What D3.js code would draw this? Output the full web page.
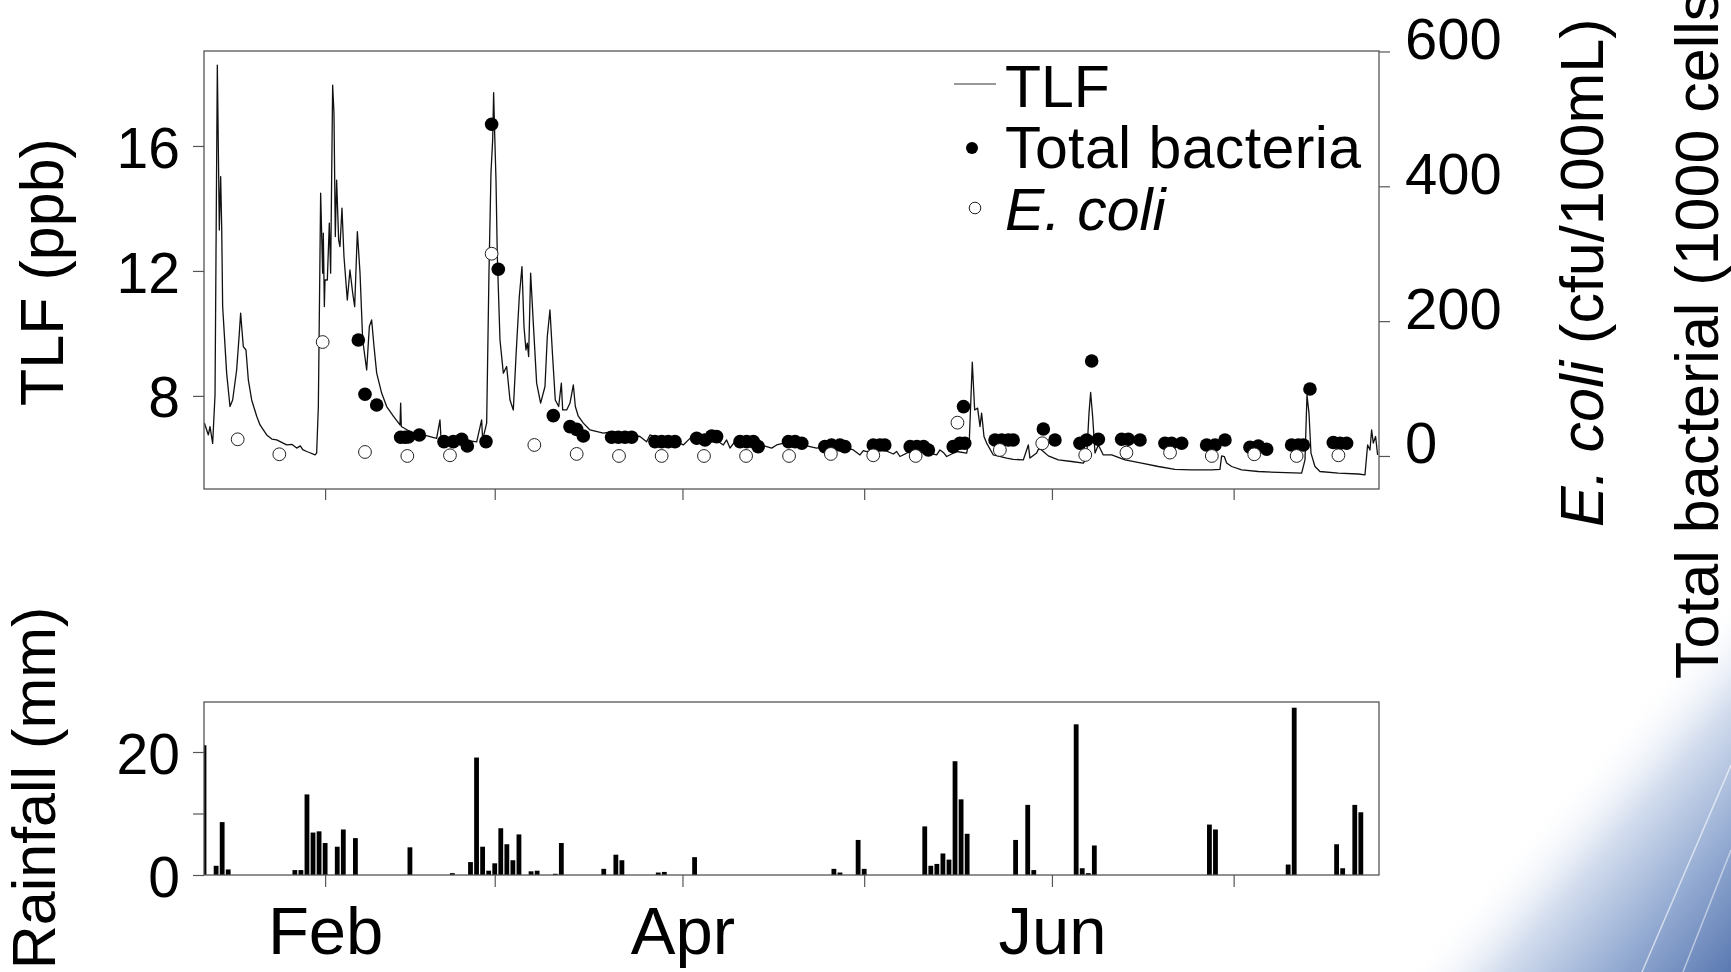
<!DOCTYPE html>
<html>
<head>
<meta charset="utf-8">
<script src="https://cdn.jsdelivr.net/npm/d3@7"></script>
<style>
  body { margin: 0; background: #fff; }
  svg { display: block; font-family: "Liberation Sans", Arial, sans-serif; }
</style>
</head>
<body>
<script>
// all days are counted from 1 January (day 0)

// TLF (ppb), [day, value]
const tlf = [
  [11.06,7.13],[11.72,6.75],[11.99,7.02],[12.43,6.48],[12.82,8.03],[13.2,18.59],[13.53,13.31],[13.75,15.02],
  [13.92,13.42],[14.08,10.86],[14.74,8.73],[15.29,7.66],[15.73,7.87],[16.39,8.83],[16.83,10.0],[17.05,10.65],
  [17.22,10.22],[17.49,9.58],[17.93,9.47],[18.32,8.51],[18.87,7.87],[19.7,7.35],[20.25,7.07],[21.35,6.75],
  [22.2,6.62],[23.0,6.59],[24.65,6.43],[25.5,6.45],[26.3,6.33],[26.9,6.4],[27.3,6.28],[27.95,6.22],[28.5,6.18],
  [29.33,6.11],[29.6,6.17],[29.88,7.66],[30.26,14.49],[30.59,11.93],[30.7,13.21],[30.87,10.86],[30.98,11.71],
  [31.36,11.71],[31.69,13.53],[31.91,11.93],[32.24,17.95],[32.46,17.05],[32.68,13.1],[32.9,14.91],[33.23,12.99],
  [33.45,12.78],[33.78,14.01],[34.11,12.46],[34.66,11.07],[35.1,12.03],[35.55,11.29],[35.88,10.86],[36.32,13.26],
  [36.76,11.93],[37.2,9.79],[37.86,8.83],[38.3,10.22],[38.68,10.43],[39.07,9.58],[39.51,8.73],[40.33,8.09],
  [41.16,7.66],[42.26,7.35],[43.36,7.07],[43.47,7.77],[43.58,7.02],[45.01,6.86],[47.21,6.75],[49.41,6.64],
  [49.96,7.23],[50.13,6.64],[51.61,6.59],[53.82,6.59],[56.02,6.53],[56.84,7.23],[57.01,6.59],[57.67,7.13],
  [58.05,11.93],[58.38,15.13],[58.66,16.19],[58.82,17.71],[58.99,16.41],[59.21,14.91],[59.43,12.46],[59.87,9.79],
  [60.42,8.73],[60.97,8.94],[61.52,7.87],[62.07,7.55],[62.51,9.26],[63.06,11.18],[63.5,12.14],[63.83,10.22],
  [64.16,9.47],[64.38,9.69],[64.6,9.26],[64.93,11.93],[65.37,10.33],[65.92,8.41],[66.58,7.77],[67.3,8.3],
  [67.68,9.9],[68.12,10.75],[68.56,9.26],[69.0,7.87],[69.56,7.66],[70.0,8.41],[70.22,7.55],[70.88,7.55],
  [71.43,7.77],[71.98,8.35],[72.31,7.66],[72.8,7.35],[73.63,7.13],[74.73,6.91],[76.93,6.81],[78.58,6.86],
  [81.33,6.75],[82.98,6.7],[84.08,6.53],[84.63,6.75],[86.83,6.59],[89.04,6.53],[90.14,6.43],[91.24,6.64],
  [92.89,6.54],[95.09,6.65],[96.74,6.43],[97.29,6.59],[97.84,6.33],[98.67,6.54],[101.15,6.54],[103.9,6.38],
  [104.72,6.33],[105.55,6.43],[107.75,6.54],[111.05,6.38],[112.15,6.33],[115.45,6.43],[118.21,6.27],[118.76,6.19],
  [119.31,6.11],[119.86,6.25],[120.41,6.22],[122.61,6.33],[124.81,6.14],[125.36,6.22],[125.91,6.06],[128.11,6.27],
  [131.97,6.11],[132.51,6.27],[133.07,6.19],[133.62,6.06],[135.27,6.22],[136.92,6.17],[137.36,6.59],[137.85,9.08],
  [138.24,7.55],[138.73,7.61],[139.12,7.02],[139.39,7.45],[139.78,6.7],[140.22,6.49],[141.32,6.11],[143.52,6.01],
  [144.62,5.97],[146.27,5.95],[147.1,6.43],[147.37,6.01],[148.48,6.17],[148.86,6.33],[149.58,6.22],[150.4,6.08],
  [152.05,5.95],[154.25,5.9],[156.18,5.85],[156.73,6.01],[157.12,7.45],[157.39,8.11],[157.72,7.34],[158.11,6.17],
  [158.66,6.43],[159.48,6.11],[160.86,6.11],[163.06,5.95],[165.81,5.85],[168.56,5.74],[171.31,5.65],[174.07,5.63],
  [177.37,5.63],[178.74,5.65],[179.02,6.08],[179.46,6.06],[179.84,5.85],[180.67,5.74],[182.32,5.63],[185.07,5.58],
  [188.37,5.55],[192.23,5.53],[192.78,5.95],[193.11,8.03],[193.44,7.45],[193.77,6.17],[194.43,5.74],[195.25,5.58],
  [198.28,5.53],[201.58,5.5],[202.68,5.47],[203.12,6.43],[203.51,6.27],[203.78,6.91],[204.06,6.49],[204.44,6.7],
  [204.77,6.11]
];

// total bacteria (1000 cells), [day, value]
const totalBacteria = [
  [36.48,172],[37.58,91.5],[39.51,75.6],[43.47,27.7],[44.2,27.7],[44.74,28.2],[46.55,31.1],[50.62,21.3],
  [52.17,21.3],[53.54,24.7],[54.48,14.8],[57.56,21.3],[58.49,492],[59.59,277],[68.67,59.8],[71.43,43.5],
  [72.53,39.5],[73.63,29.7],[78.3,27.7],[79.41,27.7],[80.51,27.7],[81.61,27.7],[85.46,21.3],[86.56,21.3],
  [87.66,21.3],[88.76,21.3],[92.34,26.2],[93.72,23.7],[94.82,29.7],[95.64,28.7],[99.5,21.3],[100.6,21.3],
  [101.7,21.3],[102.5,13.8],[107.5,21.3],[108.6,21.3],[109.7,18.8],[113.5,13.8],[114.6,16.3],[116.0,16.3],
  [116.8,13.8],[121.5,16.3],[122.6,16.3],[123.4,16.3],[127.6,13.8],[128.7,13.8],[129.8,13.8],[130.6,8.9],
  [134.7,13.8],[135.8,18.8],[136.4,73.2],[136.6,18.8],[141.6,23.7],[142.7,23.7],[143.8,23.7],[144.6,23.7],
  [149.58,40.0],[151.5,23.7],[155.63,18.8],[156.73,23.7],[157.56,140.9],[158.66,24.7],[162.51,24.7],[163.61,24.7],
  [165.54,23.7],[169.66,18.8],[170.76,18.8],[172.42,18.8],[176.54,16.3],[177.92,16.3],[179.57,23.7],[183.7,12.9],
  [185.07,14.8],[186.45,9.9],[190.57,16.3],[191.68,16.3],[192.5,16.3],[193.6,99.4],[197.45,20.0],[198.56,18.8],
  [199.65,18.8]
];

// E. coli (cfu/100mL), [day, value]
const eColi = [
  [16.56,24.7],[23.44,2.5],[30.59,169],[37.58,5.9],[44.57,0],[51.61,1],[58.49,300],[65.54,16.3],[72.53,3],
  [79.52,0],[86.56,0],[93.55,0],[100.5,0],[107.6,0],[114.5,3],[121.5,1],[128.5,0],[135.4,49.4],[142.4,8.9],
  [149.4,18.8],[156.5,1.5],[163.3,5],[170.5,5],[177.4,0],[184.4,2.5],[191.4,0],[198.3,1]
];

// daily rainfall (mm)
const rainDays = [11,13,14,15,26,27,28,29,30,31,33,34,36,45,52,55,56,57,58,59,60,61,62,63,65,66,69,70,77,79,80,
  86,87,92,115,116,119,120,130,131,132,133,134,135,136,137,145,147,148,155,156,157,158,177,178,190,191,198,199,201,202];
const rainMm = [21.1,1.5,8.6,0.9,0.8,0.8,13.1,6.9,7.1,5.2,4.6,7.4,6.0,4.5,0.3,2.1,19.1,4.6,0.7,1.9,7.6,5.0,2.4,6.6,0.6,0.7,
  0.2,5.2,1.0,3.3,2.4,0.4,0.5,2.9,1.0,0.4,5.7,1.0,7.9,1.5,1.8,3.5,2.5,18.5,12.3,6.7,5.7,11.4,0.8,24.5,1.1,0.3,4.8,8.2,7.4,
  1.7,27.2,5.0,1.1,11.4,10.2];

const tlfTicks = [8, 12, 16];
const countTicks = [0, 200, 400, 600];
const rainTicks = [0, 10, 20];
const rainTickLabels = ['0', '', '20'];
const monthLabels = {1: 'Feb', 3: 'Apr', 5: 'Jun'};

const W = 1731, H = 972;
const t0 = Date.UTC(2011, 0, 1);
const toDate = d => new Date(t0 + d * 864e5);

const svg = d3.select('body').append('svg')
  .attr('width', W)
  .attr('height', H);

// slide background corner
const defs = svg.append('defs');
const grad = defs.append('linearGradient')
  .attr('id', 'swoosh')
  .attr('gradientUnits', 'userSpaceOnUse')
  .attr('x1', 1560).attr('y1', 790)
  .attr('x2', 1745).attr('y2', 950);
grad.append('stop').attr('offset', 0).attr('stop-color', '#ffffff').attr('stop-opacity', 0);
grad.append('stop').attr('offset', 0.3).attr('stop-color', '#d3ddee');
grad.append('stop').attr('offset', 0.65).attr('stop-color', '#94abd2');
grad.append('stop').attr('offset', 1).attr('stop-color', '#5d7bb3');

svg.append('path')
  .attr('d', 'M1405,972 Q1560,810 1731,600 L1731,972 Z')
  .attr('fill', 'url(#swoosh)');
svg.append('path')
  .attr('d', 'M1731,765 L1642,972')
  .attr('stroke', '#fff').attr('stroke-opacity', 0.6).attr('stroke-width', 1.5);
svg.append('path')
  .attr('d', 'M1731,850 L1683,972')
  .attr('stroke', '#fff').attr('stroke-opacity', 0.5).attr('stroke-width', 1.5);

// scales
const x = d3.scaleUtc().domain([toDate(11), toDate(205)]).range([204, 1379]);
const yTlf = d3.scaleLinear().domain([5.02, 19.04]).range([489, 51]);
const yCount = d3.scaleLinear().domain([-49, 600.7]).range([489, 51]);
const yRain = d3.scaleLinear().domain([0, 28.13]).range([875, 702]);

const axisColor = '#555';

const styleAxis = (g, size) => {
  g.select('.domain').remove();
  g.selectAll('.tick line').attr('stroke', axisColor).attr('stroke-width', 1.2);
  g.selectAll('.tick text')
    .attr('fill', '#000')
    .style('font-size', size + 'px')
    .style('font-family', '"Liberation Sans", Arial, sans-serif');
};

// ---- top panel ----
defs.append('clipPath').attr('id', 'clipTop')
  .append('rect').attr('x', 204).attr('y', 51).attr('width', 1175).attr('height', 438);

let tlfLine = d3.line()
  .x(d => x(toDate(d[0])))
  .y(d => yTlf(d[1]));

svg.append('path')
  .datum(tlf)
  .attr('clip-path', 'url(#clipTop)')
  .attr('d', tlfLine)
  .attr('fill', 'none')
  .attr('stroke', '#111')
  .attr('stroke-width', 1.3)
  .attr('stroke-linejoin', 'round');

svg.append('g')
  .selectAll('circle')
  .data(totalBacteria)
  .enter()
  .append('circle')
  .attr('cx', d => x(toDate(d[0])))
  .attr('cy', d => yCount(d[1]))
  .attr('r', 6.8)
  .attr('fill', '#000');

svg.append('g')
  .selectAll('circle')
  .data(eColi)
  .enter()
  .append('circle')
  .attr('cx', d => x(toDate(d[0])))
  .attr('cy', d => yCount(d[1]))
  .attr('r', 6.4)
  .attr('fill', '#fff')
  .attr('stroke', '#222')
  .attr('stroke-width', 1);

svg.append('rect')
  .attr('x', 204).attr('y', 51).attr('width', 1175).attr('height', 438)
  .attr('fill', 'none').attr('stroke', axisColor).attr('stroke-width', 1.3);

svg.append('g')
  .attr('transform', 'translate(204,0)')
  .call(d3.axisLeft(yTlf).tickValues(tlfTicks).tickSize(11).tickPadding(13))
  .call(g => styleAxis(g, 57))
  .call(g => g.selectAll('.tick text').attr('dy', '0.37em'));

svg.append('g')
  .attr('transform', 'translate(1379,0)')
  .call(d3.axisRight(yCount).tickValues(countTicks).tickSize(11).tickPadding(15))
  .call(g => styleAxis(g, 58))
  .call(g => g.selectAll('.tick text').attr('dy', '0.12em'));

svg.append('g')
  .attr('transform', 'translate(0,489)')
  .call(d3.axisBottom(x).ticks(d3.utcMonth.every(1)).tickSize(11).tickFormat(''))
  .call(g => styleAxis(g, 10));

// legend
const legend = svg.append('g').style('font-size', '59px');
legend.append('line')
  .attr('x1', 954).attr('x2', 996).attr('y1', 84).attr('y2', 84)
  .attr('stroke', '#333').attr('stroke-width', 1);
legend.append('circle').attr('cx', 972).attr('cy', 148).attr('r', 6).attr('fill', '#000');
legend.append('circle').attr('cx', 975).attr('cy', 208).attr('r', 5.8)
  .attr('fill', '#fff').attr('stroke', '#222').attr('stroke-width', 1);
legend.append('text').attr('x', 1005).attr('y', 107).text('TLF');
legend.append('text').attr('x', 1005).attr('y', 168).style('letter-spacing', '0.4px').text('Total bacteria');
legend.append('text').attr('x', 1005).attr('y', 230)
  .style('font-style', 'italic').text('E. coli');

// ---- bottom panel ----
defs.append('clipPath').attr('id', 'clipBottom')
  .append('rect').attr('x', 204).attr('y', 702).attr('width', 1175).attr('height', 173);

svg.append('g')
  .attr('clip-path', 'url(#clipBottom)')
  .selectAll('rect')
  .data(rainDays)
  .enter()
  .append('rect')
  .attr('x', (d) => x(toDate(d)) - 2.4)
  .attr('width', 4.8)
  .attr('y', (d, i) => yRain(rainMm[i]))
  .attr('height', (d, i) => yRain(0) - yRain(rainMm[i]))
  .attr('fill', '#000');

svg.append('rect')
  .attr('x', 204).attr('y', 702).attr('width', 1175).attr('height', 173)
  .attr('fill', 'none').attr('stroke', axisColor).attr('stroke-width', 1.3);

svg.append('g')
  .attr('transform', 'translate(204,0)')
  .call(d3.axisLeft(yRain).tickValues(rainTicks).tickSize(11).tickPadding(13)
    .tickFormat((d, i) => rainTickLabels[i]))
  .call(g => styleAxis(g, 57))
  .call(g => g.selectAll('.tick text').attr('dy', '0.38em'));

svg.append('g')
  .attr('transform', 'translate(0,875)')
  .call(d3.axisBottom(x).ticks(d3.utcMonth.every(1)).tickSize(12).tickPadding(19)
    .tickFormat(d => monthLabels[d.getUTCMonth()] || ''))
  .call(g => styleAxis(g, 67));

// axis titles
svg.append('text')
  .attr('transform', 'translate(63,272) rotate(-90)')
  .attr('text-anchor', 'middle')
  .style('font-size', '61px')
  .text('TLF (ppb)');

svg.append('text')
  .attr('transform', 'translate(55,788) rotate(-90)')
  .attr('text-anchor', 'middle')
  .style('font-size', '61px')
  .text('Rainfall (mm)');

let ecTitle = svg.append('text')
  .attr('transform', 'translate(1603,527) rotate(-90)')
  .style('font-size', '61px');
ecTitle.append('tspan').style('font-style', 'italic').text('E. coli');
ecTitle.append('tspan').text(' (cfu/100mL)');

svg.append('text')
  .attr('transform', 'translate(1718,679) rotate(-90)')
  .style('font-size', '61px')
  .text('Total bacterial (1000 cells');
</script>
</body>
</html>
